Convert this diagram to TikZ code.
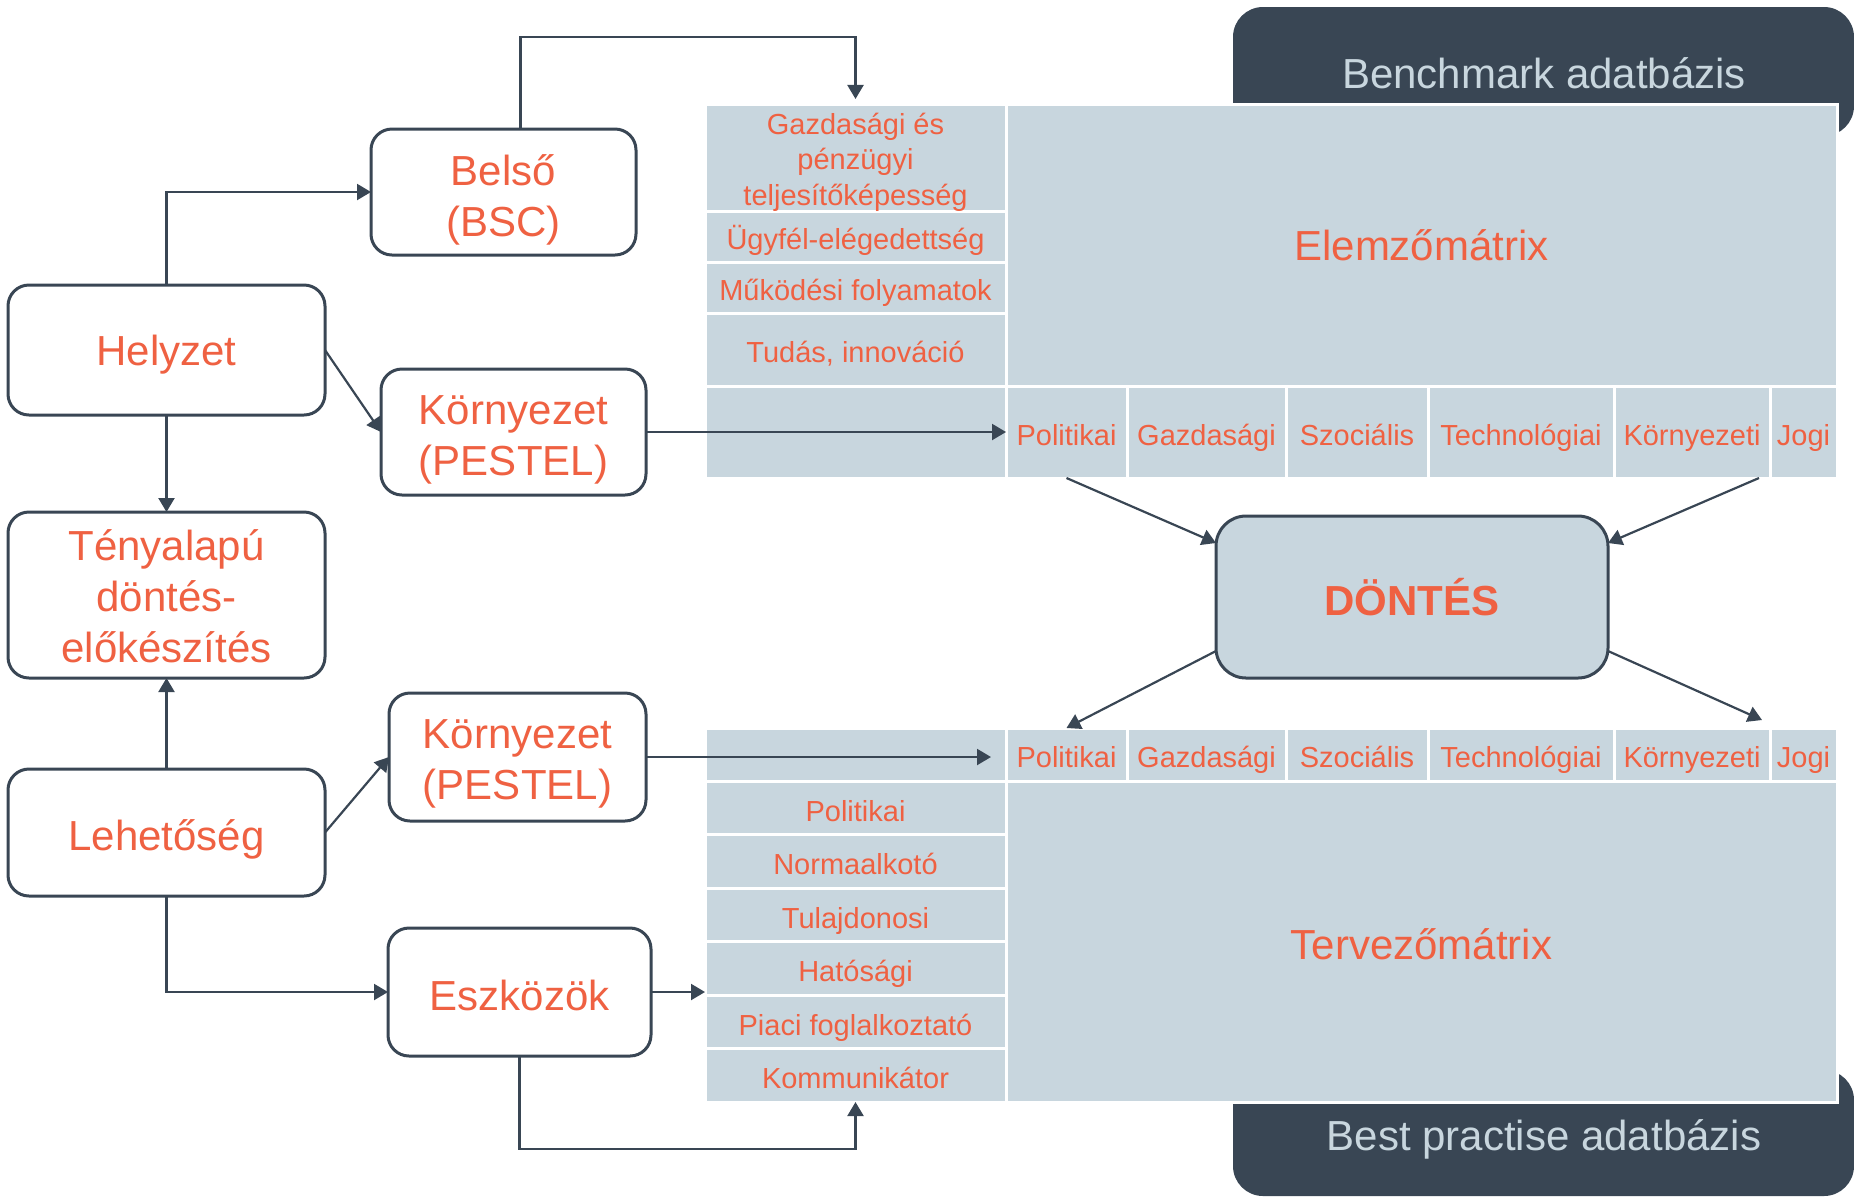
\documentclass[tikz,border=0pt]{standalone}
\usepackage{fontspec}
\setmainfont{Liberation Sans}
\usetikzlibrary{arrows.meta}
\definecolor{dk}{HTML}{394654}
\definecolor{og}{HTML}{EF6142}
\definecolor{lt}{HTML}{C8D6DE}
\newcommand\fbig{\fontsize{21}{25.5}\selectfont}
\newcommand\fsmall{\fontsize{14.5}{17.75}\selectfont}
\newcommand\fstrut[1]{\rule{0pt}{#1}}
\newcommand\mcell[7][sl]{%
  \pgfmathsetmacro\cw{(#5-#3)*0.5}\pgfmathsetmacro\ch{(#6-#4)*0.5}%
  \node[cellst, #1, minimum width=\cw pt, minimum height=\ch pt] (#2) at ({(#3+#5)/2},{(#4+#6)/2}) {#7};}
\begin{document}
\begin{tikzpicture}[x=0.5pt,y=-0.5pt,
  box/.style={draw=dk, line width=1.5pt, rounded corners=10.5pt, fill=white, text=og, font=\fbig, align=center, inner sep=0pt, outer sep=0pt},
  bsl/.style={text height=18pt, text depth=0pt},
  cellst/.style={draw=white, line width=1.5pt, fill=lt, text=og, font=\fsmall, align=center, inner sep=0pt, outer sep=0pt},
  sl/.style={text height=13.4pt, text depth=0pt},
  ml/.style={},
  bigsl/.style={font=\fbig, text height=18pt, text depth=0pt},
  dbox/.style={fill=dk, rounded corners=15pt, text=lt, font=\fbig, inner sep=0pt, outer sep=0pt},
  arr/.style={draw=dk, line width=1.1pt, -{Triangle[length=7pt,width=8pt]}}]
\useasboundingbox (0,0) rectangle (1854,1196);
% dark database boxes
\node[dbox, minimum width=310.5pt, minimum height=64.5pt] (bench) at (1543.5,71.5) {};
\node[text=lt, font=\fbig] (benchtxt) at (1544,73) {Benchmark adatbázis};
\node[dbox, minimum width=310.5pt, minimum height=63pt] (best) at (1543.5,1133) {};
\node[text=lt, font=\fbig] (besttxt) at (1544,1139.5) {Best practise adatbázis};
% top matrix
\mcell{g2}{705}{211}{1006}{262}{Ügyfél-elégedettség}
\mcell[ml]{g1}{705}{104}{1006}{211}{\fstrut{15pt}Gazdasági és\\pénzügyi\\teljesítőképesség}
\mcell{g3}{705}{262}{1006}{313}{Működési folyamatok}
\mcell{g4}{705}{313}{1006}{386}{Tudás, innováció}
\mcell[bigsl, text height=15.6pt]{elem}{1006}{104}{1837}{386}{Elemzőmátrix}
\mcell{e0}{705}{386}{1006}{478}{}
\mcell{p1}{1006}{386}{1127}{478}{Politikai}
\mcell{gz1}{1127}{386}{1286}{478}{Gazdasági}
\mcell{sz1}{1286}{386}{1428}{478}{Szociális}
\mcell{te1}{1428}{386}{1614}{478}{Technológiai}
\mcell{ko1}{1614}{386}{1770}{478}{Környezeti}
\mcell{jo1}{1770}{386}{1837}{478}{Jogi}
% bottom matrix
\mcell{e2}{705}{728}{1006}{781}{}
\mcell{p2}{1006}{728}{1127}{781}{Politikai}
\mcell{gz2}{1127}{728}{1286}{781}{Gazdasági}
\mcell{sz2}{1286}{728}{1428}{781}{Szociális}
\mcell{te2}{1428}{728}{1614}{781}{Technológiai}
\mcell{ko2}{1614}{728}{1770}{781}{Környezeti}
\mcell{jo2}{1770}{728}{1837}{781}{Jogi}
\mcell{t1}{705}{781}{1006}{834.5}{Politikai}
\mcell{t2}{705}{834.5}{1006}{888}{Normaalkotó}
\mcell{t3}{705}{888}{1006}{941.5}{Tulajdonosi}
\mcell{t4}{705}{941.5}{1006}{995}{Hatósági}
\mcell{t5}{705}{995}{1006}{1048.5}{Piaci foglalkoztató}
\mcell{t6}{705}{1048.5}{1006}{1102}{Kommunikátor}
\mcell[bigsl]{terv}{1006}{781}{1837}{1102}{Tervezőmátrix}
% left boxes
\node[box, minimum width=132.5pt, minimum height=63pt] (belso) at (503.5,192) {\fstrut{23.5pt}Belső\\(BSC)};
\node[box, bsl, text height=15.6pt, minimum width=158.5pt, minimum height=65pt] (helyzet) at (166.5,350) {Helyzet};
\node[box, minimum width=132.5pt, minimum height=63pt] (korny1) at (513.5,432) {\fstrut{22pt}Környezet\\(PESTEL)};
\node[box, minimum width=158.5pt, minimum height=83pt] (teny) at (166.5,595) {\fstrut{16.5pt}Tényalapú\\döntés-\\előkészítés};
\node[box, minimum width=128.5pt, minimum height=64pt] (korny2) at (517.5,757) {\fstrut{21.5pt}Környezet\\(PESTEL)};
\node[box, bsl, minimum width=158.5pt, minimum height=63.5pt] (lehet) at (166.5,832.5) {Lehetőség};
\node[box, bsl, minimum width=131.5pt, minimum height=64pt] (eszk) at (519.5,992) {Eszközök};
\node[box, fill=lt, rounded corners=15pt, minimum width=196pt, minimum height=81pt, font=\fbig\bfseries] (dontes) at (1412,597) {DÖNTÉS};
% connectors
\draw[arr] (helyzet.north) |- (belso.west);
\draw[arr] ([xshift=8.5pt]belso.north) -- ++(0,-92) -| ([yshift=2.5pt]g1.north);
\draw[arr] (helyzet.east) -- (korny1.west);
\draw[arr] (helyzet.south) -- (teny.north);
\draw[arr] (korny1.east) -- (p1.west);
\draw[arr] (p1.south) -- ([yshift=-13.5pt]dontes.north west);
\draw[arr] ([xshift=-5.5pt]jo1.south west) -- ([yshift=-13.5pt]dontes.north east);
\draw[arr] ([yshift=13.5pt]dontes.south west) -- (p2.north);
\draw[arr] ([yshift=13.5pt]dontes.south east) -- ([xshift=-4pt,yshift=4pt]jo2.north west);
\draw[arr] (lehet.north) -- (teny.south);
\draw[arr] (lehet.east) -- (korny2.west);
\draw[arr, shorten >=7.5pt] (korny2.east) -- (korny2.east -| p2.west);
\draw[arr] (lehet.south) |- (eszk.west);
\draw[arr] (eszk.east) -- (eszk.east -| t4.west);
\draw[arr] (eszk.south) -- ++(0,93) -| (t6.south);
\end{tikzpicture}
\end{document}
